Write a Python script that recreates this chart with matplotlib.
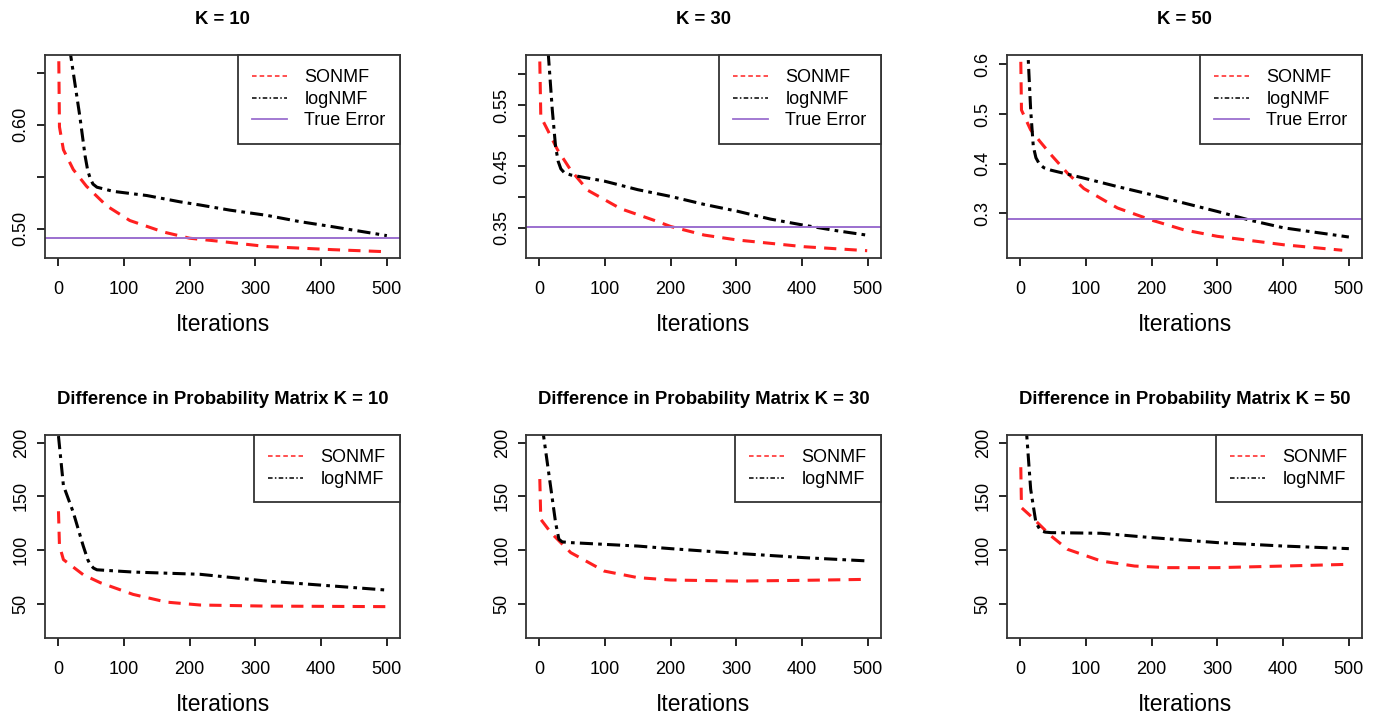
import matplotlib
matplotlib.use("Agg")
import matplotlib.pyplot as plt
from matplotlib.lines import Line2D

plt.rcParams["font.family"] = ["Liberation Sans", "DejaVu Sans"]

# --- top row: reconstruction error ---
err_titles = ["K = 10", "K = 30", "K = 50"]

son10_it = [1, 2, 8, 23, 43, 74, 109, 160, 200, 246, 317, 418, 500]
son10 = [0.661, 0.598, 0.576, 0.557, 0.541, 0.522, 0.508, 0.497, 0.491, 0.488, 0.483, 0.480, 0.478]
log10_it = [15, 19, 33, 41, 45, 49, 53, 59, 84, 135, 185, 215, 261, 317, 367, 418, 500]
log10 = [0.70, 0.667, 0.608, 0.570, 0.556, 0.548, 0.543, 0.540, 0.536, 0.532, 0.526,
         0.523, 0.518, 0.513, 0.507, 0.502, 0.4935]

son30_it = [1, 2.5, 13, 28, 48, 74, 124, 175, 200, 251, 301, 403, 499]
son30 = [0.621, 0.531, 0.509, 0.477, 0.444, 0.411, 0.381, 0.362, 0.352, 0.338, 0.330, 0.319, 0.3125]
log30_it = [12, 14, 20, 25, 29, 33, 38, 48, 99, 150, 200, 251, 301, 352, 403, 453, 501]
log30 = [0.68, 0.632, 0.542, 0.482, 0.458, 0.446, 0.440, 0.436, 0.426, 0.412, 0.401,
         0.388, 0.377, 0.364, 0.354, 0.345, 0.3375]

son50_it = [1, 2, 16, 30, 47, 72, 97, 148, 199, 249, 300, 401, 490]
son50 = [0.605, 0.508, 0.468, 0.445, 0.418, 0.381, 0.350, 0.311, 0.287, 0.267, 0.254, 0.237, 0.226]
log50_it = [10, 12, 16, 20, 24, 29, 36, 47, 97, 148, 199, 249, 300, 351, 401, 500]
log50 = [0.70, 0.619, 0.508, 0.435, 0.412, 0.400, 0.392, 0.387, 0.371, 0.354, 0.338,
         0.321, 0.304, 0.286, 0.271, 0.2526]

true_err = [0.4916, 0.351, 0.289]
err_ylim = [(0.472, 0.667), (0.3006, 0.6316), (0.2104, 0.6187)]
err_ticks = [[0.50, 0.55, 0.60, 0.65],
             [0.35, 0.40, 0.45, 0.50, 0.55, 0.60],
             [0.3, 0.4, 0.5, 0.6]]
err_ticklabels = [["0.50", "", "0.60", ""],
                  ["0.35", "", "0.45", "", "0.55", ""],
                  ["0.3", "0.4", "0.5", "0.6"]]

# --- bottom row: difference in probability matrix ---
diff_titles = ["Difference in Probability Matrix K = 10",
               "Difference in Probability Matrix K = 30",
               "Difference in Probability Matrix K = 50"]

dson10_it = [0.5, 2, 8, 38, 64, 114, 165, 216, 317, 500]
dson10 = [136, 104, 91, 77, 69.5, 58.6, 51.4, 48.7, 47.7, 47.2]
dlog10_it = [0.5, 8, 23, 38, 45, 49, 54, 59, 114, 216, 317, 418, 500]
dlog10 = [206, 160, 135, 104, 91, 86, 83, 81.5, 79.4, 77.3, 71, 66.4, 62.6]

dson30_it = [1, 2.5, 18, 48, 99, 150, 200, 301, 403, 499]
dson30 = [166, 128.5, 116, 97.5, 80.3, 74.2, 72, 71, 71.7, 72.6]
dlog30_it = [5, 7, 18, 25, 30, 35, 48, 99, 150, 200, 301, 403, 501]
dlog30 = [215, 205, 156.5, 125.4, 110, 107.5, 106.8, 105.2, 103.6, 101.2, 96.8, 92.8, 89.7]

dson50_it = [1, 2, 16, 47, 72, 123, 174, 224, 300, 401, 500]
dson50 = [177, 139.4, 131.6, 113, 100.6, 89.7, 85, 83.5, 83.5, 85, 86.6]
dlog50_it = [8, 10, 16, 24, 31, 38, 47, 123, 199, 300, 401, 500]
dlog50 = [215, 207, 156.5, 125.4, 118, 116.6, 116.1, 115.5, 111.5, 106.8, 103.6, 101.2]

diff_ylim = (18, 207)
diff_ticks = [50, 100, 150, 200]

RED = "#FF2020"
PURPLE = "#9B6FCF"
DASH = (0, (4, 2.7))
DOTDASH = (0, (4.3, 1.7, 1.2, 1.7))

W, H = 1376, 718
col_left = [45, 526, 1007]
ax_w = 355
row_top = [55, 435]
ax_h = 203


def make_axes(fig, row, col):
    left = col_left[col] / W
    bottom = 1 - (row_top[row] + ax_h) / H
    ax = fig.add_axes([left, bottom, ax_w / W, ax_h / H])
    ax.set_xlim(-20, 520)
    ax.set_xticks([0, 100, 200, 300, 400, 500])
    ax.tick_params(axis="both", direction="out", length=6, width=1.2, labelsize=13)
    ax.tick_params(axis="x", pad=10.5)
    ax.tick_params(axis="y", pad=5)
    for s in ax.spines.values():
        s.set_linewidth(1.3)
        s.set_color("#333333")
    ax.set_xlabel("Iterations", fontsize=16.5, labelpad=11)
    return ax


def add_legend(ax, with_true):
    handles = [Line2D([], [], color=RED, lw=1.1, linestyle=(0, (3, 2))),
               Line2D([], [], color="black", lw=1.1, linestyle=(0, (3, 1.5, 1, 1.5)))]
    labels = ["SONMF", "logNMF"]
    if with_true:
        handles.append(Line2D([], [], color=PURPLE, lw=1.3))
        labels.append("True Error")
    leg = ax.legend(handles, labels, loc="upper right", bbox_to_anchor=(1, 1),
                    borderaxespad=0, fancybox=False, edgecolor="#333333",
                    framealpha=1, fontsize=13, handlelength=1.95,
                    handletextpad=0.95, borderpad=0.8, labelspacing=0.25)
    leg.get_frame().set_linewidth(1.3)


fig = plt.figure(figsize=(W / 100, H / 100), dpi=100)

err_data = [(son10_it, son10, log10_it, log10),
            (son30_it, son30, log30_it, log30),
            (son50_it, son50, log50_it, log50)]
for c, (si, sv, li, lv) in enumerate(err_data):
    ax = make_axes(fig, 0, c)
    ax.plot(si, sv, color=RED, lw=2.2, linestyle=DASH)
    ax.plot(li, lv, color="black", lw=2.2, linestyle=DOTDASH)
    ax.axhline(true_err[c], color=PURPLE, lw=1.4)
    ax.set_ylim(*err_ylim[c])
    ax.set_yticks(err_ticks[c])
    ax.set_yticklabels(err_ticklabels[c], rotation=90, va="center")
    ax.set_title(err_titles[c], fontsize=13.3, fontweight="bold", pad=22)
    add_legend(ax, True)

diff_data = [(dson10_it, dson10, dlog10_it, dlog10),
             (dson30_it, dson30, dlog30_it, dlog30),
             (dson50_it, dson50, dlog50_it, dlog50)]
for c, (si, sv, li, lv) in enumerate(diff_data):
    ax = make_axes(fig, 1, c)
    ax.plot(si, sv, color=RED, lw=2.2, linestyle=DASH)
    ax.plot(li, lv, color="black", lw=2.2, linestyle=DOTDASH)
    ax.set_ylim(*diff_ylim)
    ax.set_yticks(diff_ticks)
    ax.set_yticklabels([str(t) for t in diff_ticks], rotation=90, va="center")
    ax.set_title(diff_titles[c], fontsize=13.3, fontweight="bold", pad=22)
    add_legend(ax, False)

fig.savefig("out.png", dpi=100)
plt.close(fig)
